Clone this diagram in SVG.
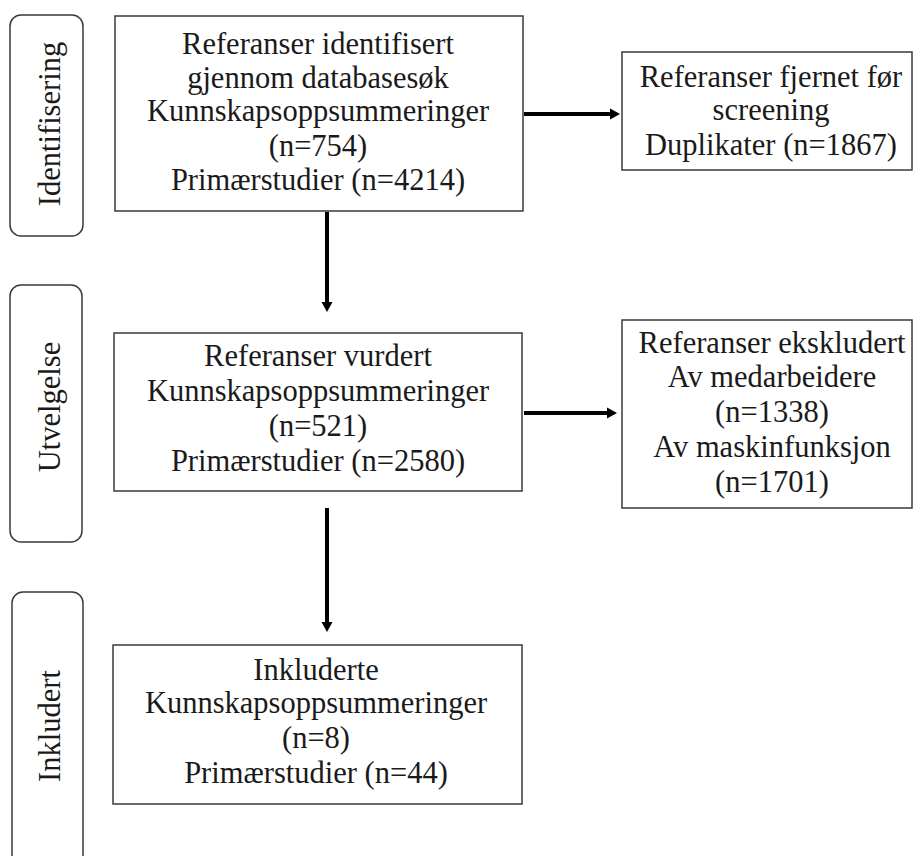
<svg xmlns="http://www.w3.org/2000/svg" width="914" height="856" viewBox="0 0 914 856">
<defs>
<style>
.box{fill:#fff;stroke:#3a3a3a;stroke-width:1.5}
.phase{fill:#fff;stroke:#3a3a3a;stroke-width:1.5}
text{font-family:"Liberation Serif","Times New Roman",serif;font-size:30.5px;fill:#1a1a1a;text-anchor:middle}
.conn{stroke:#000;stroke-width:4;fill:none;marker-end:url(#ah)}
</style>
<marker id="ah" markerWidth="11" markerHeight="12" refX="1" refY="6" orient="auto" markerUnits="userSpaceOnUse">
<path d="M0,0.5 L10,6 L0,11.5 z" fill="#000"/>
</marker>
</defs>
<rect width="914" height="856" fill="#fff"/>
<g id="phase-identifisering">
<rect class="phase" x="10" y="15" width="73" height="221" rx="11"/>
<text transform="rotate(-90 60 124)" x="60" y="124">Identifisering</text>
</g>
<g id="phase-utvelgelse">
<rect class="phase" x="10" y="285" width="72" height="257" rx="11"/>
<text transform="rotate(-90 60 407)" x="60" y="407">Utvelgelse</text>
</g>
<g id="phase-inkludert">
<rect class="phase" x="12" y="592" width="71" height="290" rx="11"/>
<text transform="rotate(-90 60 726)" x="60" y="726">Inkludert</text>
</g>
<g id="box-identified">
<rect class="box" x="115" y="16" width="408" height="195"/>
<text x="318" y="54">Referanser identifisert</text>
<text x="318" y="88">gjennom databasesøk</text>
<text x="318" y="121">Kunnskapsoppsummeringer</text>
<text x="318" y="156">(n=754)</text>
<text x="318" y="190">Primærstudier (n=4214)</text>
</g>
<g id="box-removed">
<rect class="box" x="622" y="52" width="290" height="118"/>
<text x="771" y="87">Referanser fjernet før</text>
<text x="771" y="120">screening</text>
<text x="771" y="155">Duplikater (n=1867)</text>
</g>
<g id="box-assessed">
<rect class="box" x="114" y="333" width="408" height="158"/>
<text x="318" y="366">Referanser vurdert</text>
<text x="318" y="401">Kunnskapsoppsummeringer</text>
<text x="318" y="436">(n=521)</text>
<text x="318" y="471">Primærstudier (n=2580)</text>
</g>
<g id="box-excluded">
<rect class="box" x="622" y="320" width="290" height="188"/>
<text x="772" y="353">Referanser ekskludert</text>
<text x="772" y="387">Av medarbeidere</text>
<text x="772" y="422">(n=1338)</text>
<text x="772" y="457">Av maskinfunksjon</text>
<text x="772" y="492">(n=1701)</text>
</g>
<g id="box-included">
<rect class="box" x="113" y="645" width="409" height="159"/>
<text x="316" y="680">Inkluderte</text>
<text x="316" y="713">Kunnskapsoppsummeringer</text>
<text x="316" y="748">(n=8)</text>
<text x="316" y="783">Primærstudier (n=44)</text>
</g>
<g id="connectors">
<line class="conn" x1="524" y1="114" x2="611" y2="114"/>
<line class="conn" x1="524" y1="413" x2="608" y2="413"/>
<line class="conn" x1="327" y1="212" x2="327" y2="303"/>
<line class="conn" x1="327" y1="508" x2="327" y2="623"/>
</g>
</svg>
